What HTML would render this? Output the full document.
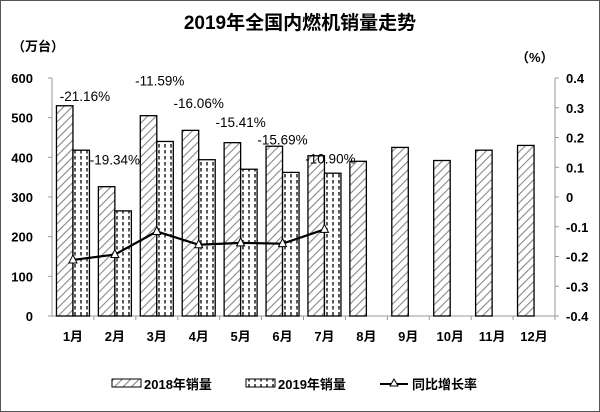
<!DOCTYPE html>
<html><head><meta charset="utf-8"><style>
body{margin:0;background:#fff}
svg{display:block;font-family:"Liberation Sans","Noto Sans CJK SC",sans-serif}
</style></head><body>
<svg width="600" height="412" viewBox="0 0 600 412">
<defs>
<pattern id="hatch" width="6" height="6" patternUnits="userSpaceOnUse" patternTransform="rotate(45)"><rect width="6" height="6" fill="#fff"/><line x1="0" y1="0" x2="0" y2="6" stroke="#888" stroke-width="2.2"/></pattern>
<pattern id="dots" width="6" height="6" patternUnits="userSpaceOnUse"><rect width="6" height="6" fill="#fff"/><line x1="3" y1="0" x2="3" y2="3.5" stroke="#000" stroke-width="1.3"/></pattern>
</defs>
<rect x="0.5" y="0.5" width="599" height="411" fill="#fff" stroke="#555"/>
<text x="300" y="29" text-anchor="middle" font-size="19" font-weight="bold">2019年全国内燃机销量走势</text>
<text x="12" y="51" font-size="13" font-weight="bold">（万台）</text>
<text x="516" y="62" font-size="13" font-weight="bold">（%）</text>
<g id="axes"></g><g id="bars"></g><g id="line"></g>
<g font-size="13" font-weight="bold">
<g><rect x="112" y="379" width="29" height="8" fill="url(#hatch)" stroke="#000"/><text x="144" y="389">2018年销量</text></g>
<g><rect x="246" y="379" width="29" height="8" fill="url(#dots)" stroke="#000"/><text x="278" y="389">2019年销量</text></g>
<g><line x1="380" y1="384" x2="408" y2="384" stroke="#000" stroke-width="2"/><polygon points="394,379 398,386 390,386" fill="#fff" stroke="#000"/><text x="412" y="389">同比增长率</text></g>
</g>
</svg>
<script>
const months=["1月","2月","3月","4月","5月","6月","7月","8月","9月","10月","11月","12月"];
const sales2018=[530,326,505,468,437,428,404,390,425,392,418,430];
const sales2019=[418,265,440,394,370,362,360];
const yoy=[-0.2116,-0.1934,-0.1159,-0.1606,-0.1541,-0.1569,-0.1090];
const yoyLabels=["-21.16%","-19.34%","-11.59%","-16.06%","-15.41%","-15.69%","-10.90%"];
const leftTicks=[0,100,200,300,400,500,600];
const rightTicks=[-0.4,-0.3,-0.2,-0.1,0,0.1,0.2,0.3,0.4];
const NS="http://www.w3.org/2000/svg";
const L=52,R=555,T=78,B=316,cw=(R-L)/months.length;
const yL=v=>B-(v/600)*(B-T);
const yR=v=>B-((v+0.4)/0.8)*(B-T);
const xC=i=>L+cw*(i+0.5);
function mk(tag,attrs,parent,txt){const e=document.createElementNS(NS,tag);for(const k in attrs)e.setAttribute(k,attrs[k]);if(txt!==undefined)e.textContent=txt;parent.appendChild(e);return e;}
const ax=document.getElementById('axes');
let e=mk('line',{x1:L,y1:T,x2:L,y2:B,stroke:'#999'},ax);


e=mk('line',{x1:R,y1:T,x2:R,y2:B,stroke:'#999'},ax);


e=mk('line',{x1:L,y1:B,x2:R,y2:B,stroke:'#999'},ax);


leftTicks.forEach(v=>{mk('line',{x1:L-4,y1:yL(v),x2:L,y2:yL(v),stroke:'#999'},ax);
const t=mk('text',{x:33,y:yL(v)+5,'text-anchor':'end','font-size':13,'font-weight':'bold'},ax,String(v));

});
rightTicks.forEach(v=>{mk('line',{x1:R,y1:yR(v),x2:R+4,y2:yR(v),stroke:'#999'},ax);
const t=mk('text',{x:566,y:yR(v)+5,'font-size':13,'font-weight':'bold'},ax,String(Math.round(v*10)/10));

});
months.forEach((m,i)=>{mk('line',{x1:L+cw*(i+1),y1:B,x2:L+cw*(i+1),y2:B+4,stroke:'#999'},ax);
const t=mk('text',{x:xC(i),y:341,'text-anchor':'middle','font-size':13,'font-weight':'bold'},ax,m);

});
const bg=document.getElementById('bars');const bw=16.5;
sales2018.forEach((v,i)=>{const r=mk('rect',{x:xC(i)-bw,y:yL(v),width:bw,height:B-yL(v),fill:'url(#hatch)',stroke:'#000','stroke-width':1.3},bg);

});
sales2019.forEach((v,i)=>{const r=mk('rect',{x:xC(i),y:yL(v),width:bw,height:B-yL(v),fill:'url(#dots)',stroke:'#000','stroke-width':1.3},bg);

});
const lg=document.getElementById('line');
const pl=mk('polyline',{points:yoy.map((v,i)=>xC(i)+','+yR(v)).join(' '),fill:'none',stroke:'#000','stroke-width':2.2},lg);


const lblOff=[[12,-159],[0,-90],[3,-146],[0,-137],[0,-116],[0,-99],[6,-66]];
yoy.forEach((v,i)=>{const x=xC(i),y=yR(v);
const p=mk('polygon',{points:`${x},${y-5} ${x+4},${y+3} ${x-4},${y+3}`,fill:'#fff',stroke:'#000'},lg);


const t=mk('text',{x:x+lblOff[i][0],y:y+lblOff[i][1],'text-anchor':'middle','font-size':13.5},lg,yoyLabels[i]);

});
</script>
</body></html>
